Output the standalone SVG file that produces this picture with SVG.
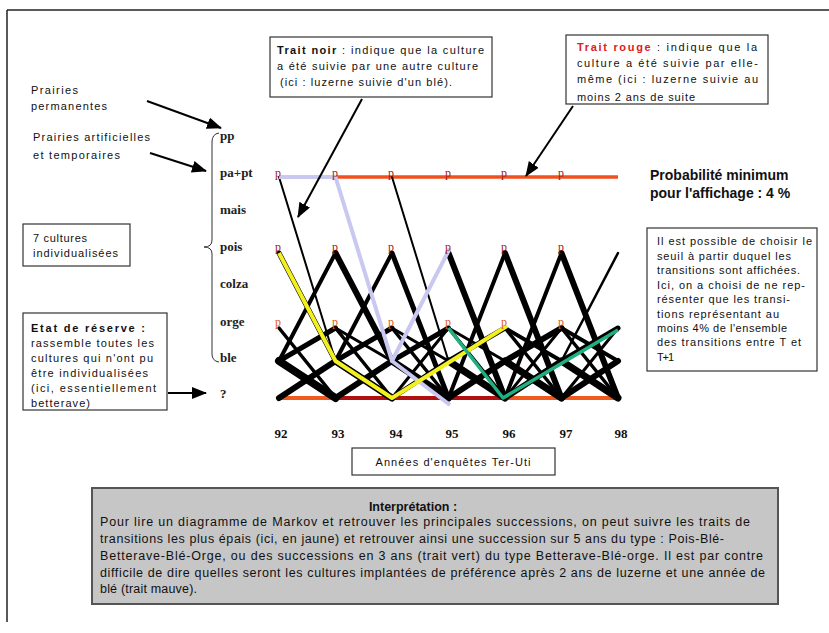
<svg xmlns="http://www.w3.org/2000/svg" width="829" height="633" viewBox="0 0 829 633">
<defs>
<marker id="ah" markerUnits="userSpaceOnUse" markerWidth="16" markerHeight="12" refX="14" refY="6" orient="auto">
<path d="M0,0 L15,6 L0,12 Z" fill="#000"/>
</marker>
<style>
.c{font-family:"Liberation Sans",Arial,sans-serif;font-size:11px;fill:#111}
.cb{font-family:"Liberation Sans",Arial,sans-serif;font-size:11px;font-weight:bold;fill:#111}
.row{font-family:"Liberation Serif","Times New Roman",serif;font-size:13px;font-weight:bold;fill:#222}
.yr{font-family:"Liberation Serif","Times New Roman",serif;font-size:13px;font-weight:bold;fill:#111;text-anchor:middle}
.box{fill:#fff;stroke:#333;stroke-width:1.2}
.arr{stroke:#000;stroke-width:2;fill:none;marker-end:url(#ah)}
.bk{stroke:#000;stroke-linecap:round;fill:none}
.pm{font-family:"Liberation Serif",serif;font-size:12px;fill:#a01818}
.po{font-family:"Liberation Serif",serif;font-size:12px;fill:#e05a20}
.it{font-family:"Liberation Sans",Arial,sans-serif;font-size:12.5px;fill:#111}
</style>
</defs>
<rect width="829" height="633" fill="#fff"/>
<g id="frame" stroke="#222" stroke-width="1.5">
<line x1="7" y1="10" x2="829" y2="10"/>
<line x1="7" y1="10" x2="7" y2="622"/>
</g>

<g id="note-trait-noir">
<rect class="box" x="270" y="37" width="222" height="60"/>
<text class="c" x="277" y="54" textLength="207" lengthAdjust="spacing"><tspan font-weight="bold">Trait noir</tspan> : indique que la culture</text>
<text class="c" x="277" y="70" textLength="201" lengthAdjust="spacing">a été suivie par une autre culture</text>
<text class="c" x="280" y="86" textLength="172" lengthAdjust="spacing">(ici : luzerne suivie d'un blé).</text>
</g>

<g id="note-trait-rouge">
<rect class="box" x="566" y="35" width="202" height="69"/>
<text class="c" x="577" y="51" textLength="180" lengthAdjust="spacing"><tspan font-weight="bold" fill="#e02020">Trait rouge</tspan> : indique que la</text>
<text class="c" x="577" y="67" textLength="181" lengthAdjust="spacing">culture a été suivie par elle-</text>
<text class="c" x="577" y="83" textLength="181" lengthAdjust="spacing">même (ici : luzerne suivie au</text>
<text class="c" x="577" y="101" textLength="118" lengthAdjust="spacing">moins 2 ans de suite</text>
</g>

<g id="label-prairies-permanentes">
<text class="c" x="31" y="94" textLength="47" lengthAdjust="spacing">Prairies</text>
<text class="c" x="31" y="110" textLength="76" lengthAdjust="spacing">permanentes</text>
</g>
<g id="label-prairies-artificielles">
<text class="c" x="33" y="141" textLength="117" lengthAdjust="spacing">Prairies artificielles</text>
<text class="c" x="33" y="159" textLength="87" lengthAdjust="spacing">et temporaires</text>
</g>
<g id="note-7-cultures">
<rect class="box" x="23" y="224" width="107" height="42"/>
<text class="c" x="33" y="242" textLength="54" lengthAdjust="spacing">7 cultures</text>
<text class="c" x="33" y="257" textLength="85" lengthAdjust="spacing">individualisées</text>
</g>
<g id="note-etat-reserve">
<rect class="box" x="23" y="313" width="144" height="97"/>
<text class="cb" x="31" y="332" textLength="114" lengthAdjust="spacing">Etat de réserve :</text>
<text class="c" x="31" y="347" textLength="123" lengthAdjust="spacing">rassemble toutes les</text>
<text class="c" x="31" y="362" textLength="122" lengthAdjust="spacing">cultures qui n'ont pu</text>
<text class="c" x="31" y="377" textLength="117" lengthAdjust="spacing">être individualisées</text>
<text class="c" x="31" y="392" textLength="125" lengthAdjust="spacing">(ici, essentiellement</text>
<text class="c" x="31" y="407" textLength="59" lengthAdjust="spacing">betterave)</text>
</g>

<g id="brace">
<path d="M219,133 Q212,134 212,142 L212,240 Q212,247 204,247 Q212,247 212,254 L212,354 Q212,361 219,362" fill="none" stroke="#333" stroke-width="1"/>
</g>

<g id="row-labels">
<text class="row" x="220" y="140">pp</text>
<text class="row" x="220" y="177">pa+pt</text>
<text class="row" x="220" y="214">mais</text>
<text class="row" x="220" y="251">pois</text>
<text class="row" x="220" y="288">colza</text>
<text class="row" x="220" y="326">orge</text>
<text class="row" x="220" y="362">ble</text>
<text class="row" x="220" y="398">?</text>
</g>

<g id="years">
<text class="yr" x="281" y="438">92</text>
<text class="yr" x="338" y="438">93</text>
<text class="yr" x="396" y="438">94</text>
<text class="yr" x="452" y="438">95</text>
<text class="yr" x="509" y="438">96</text>
<text class="yr" x="566" y="438">97</text>
<text class="yr" x="621" y="438">98</text>
</g>

<g id="connectors">
<line x1="335.5" y1="177" x2="618" y2="177" stroke="#f0501e" stroke-width="3.5"/>
<line x1="279" y1="398" x2="336" y2="398" stroke="#f05a1e" stroke-width="4"/>
<line x1="336" y1="398" x2="505" y2="398" stroke="#b01010" stroke-width="4"/>
<line x1="505" y1="398" x2="618" y2="398" stroke="#f05a1e" stroke-width="4"/>
<line class="bk" x1="279" y1="177" x2="335.5" y2="361" stroke-width="2"/>
<line class="bk" x1="335.5" y1="177" x2="392" y2="361" stroke-width="2"/>
<line class="bk" x1="392" y1="177" x2="448.5" y2="361" stroke-width="2"/>
<line class="bk" x1="279" y1="253" x2="335.5" y2="361" stroke-width="5"/>
<line class="bk" x1="279" y1="361" x2="335.5" y2="253" stroke-width="4"/>
<line class="bk" x1="335.5" y1="253" x2="392" y2="361" stroke-width="6"/>
<line class="bk" x1="335.5" y1="361" x2="392" y2="253" stroke-width="4"/>
<line class="bk" x1="392" y1="253" x2="448.5" y2="398" stroke-width="5"/>
<line class="bk" x1="448.5" y1="253" x2="505" y2="398" stroke-width="6"/>
<line class="bk" x1="448.5" y1="398" x2="505" y2="253" stroke-width="4"/>
<line class="bk" x1="505" y1="253" x2="561.5" y2="398" stroke-width="6"/>
<line class="bk" x1="505" y1="398" x2="561.5" y2="253" stroke-width="4"/>
<line class="bk" x1="561.5" y1="253" x2="618" y2="398" stroke-width="6"/>
<line class="bk" x1="561.5" y1="361" x2="618" y2="253" stroke-width="2.5"/>
<g class="bk">
<line x1="279" y1="361" x2="335.5" y2="398" stroke-width="8"/>
<line x1="335.5" y1="361" x2="392" y2="398" stroke-width="7"/>
<line x1="392" y1="361" x2="448.5" y2="398" stroke-width="7"/>
<line x1="448.5" y1="361" x2="505" y2="398" stroke-width="7"/>
<line x1="505" y1="361" x2="561.5" y2="398" stroke-width="7"/>
<line x1="561.5" y1="361" x2="618" y2="398" stroke-width="7"/>
<line x1="279" y1="398" x2="335.5" y2="361" stroke-width="6"/>
<line x1="335.5" y1="398" x2="392" y2="361" stroke-width="6"/>
<line x1="392" y1="398" x2="448.5" y2="361" stroke-width="5"/>
<line x1="448.5" y1="398" x2="505" y2="361" stroke-width="6"/>
<line x1="505" y1="398" x2="561.5" y2="361" stroke-width="6"/>
<line x1="561.5" y1="398" x2="618" y2="361" stroke-width="6"/>
<line x1="279" y1="361" x2="335.5" y2="328" stroke-width="5"/>
<line x1="335.5" y1="361" x2="392" y2="328" stroke-width="5"/>
<line x1="392" y1="361" x2="448.5" y2="328" stroke-width="5"/>
<line x1="448.5" y1="361" x2="505" y2="328" stroke-width="5"/>
<line x1="505" y1="361" x2="561.5" y2="328" stroke-width="6"/>
<line x1="561.5" y1="361" x2="618" y2="328" stroke-width="5"/>
<line x1="279" y1="328" x2="335.5" y2="398" stroke-width="3.5"/>
<line x1="335.5" y1="328" x2="392" y2="398" stroke-width="3.5"/>
<line x1="392" y1="328" x2="448.5" y2="398" stroke-width="3.5"/>
<line x1="448.5" y1="328" x2="505" y2="398" stroke-width="3.5"/>
<line x1="505" y1="328" x2="561.5" y2="398" stroke-width="3.5"/>
<line x1="561.5" y1="328" x2="618" y2="398" stroke-width="3.5"/>
<line x1="335.5" y1="328" x2="392" y2="361" stroke-width="3"/>
<line x1="392" y1="328" x2="448.5" y2="361" stroke-width="3"/>
<line x1="448.5" y1="328" x2="505" y2="361" stroke-width="3"/>
<line x1="505" y1="328" x2="561.5" y2="361" stroke-width="4"/>
<line x1="561.5" y1="328" x2="618" y2="361" stroke-width="4"/>
<line x1="392" y1="398" x2="448.5" y2="328" stroke-width="3"/>
<line x1="505" y1="398" x2="561.5" y2="328" stroke-width="3"/>
<line x1="561.5" y1="398" x2="618" y2="328" stroke-width="3"/>
</g>
<polyline points="279,177 335.5,177 392,361 450,405" fill="none" stroke="#c8c8f0" stroke-width="4" stroke-linejoin="round"/>
<line x1="392" y1="361" x2="449" y2="250" stroke="#c8c8f0" stroke-width="4" stroke-linecap="round"/>
<polyline points="279,253 335.5,361 392,398 507,326" fill="none" stroke="#f2f01e" stroke-width="4" stroke-linejoin="round"/>
<polyline points="448.5,328 503,398 618,330" fill="none" stroke="#20b080" stroke-width="3.5" stroke-linejoin="round"/>
<line class="arr" x1="362" y1="99" x2="298" y2="217"/>
<line class="arr" x1="573" y1="106" x2="526" y2="176"/>
<line class="arr" x1="147" y1="101" x2="221" y2="128"/>
<line class="arr" x1="150" y1="153" x2="206" y2="171"/>
<line class="arr" x1="168" y1="393" x2="206" y2="393"/>
</g>

<g id="node-markers">
<text class="pm" x="275" y="177">p</text>
<text class="pm" x="332" y="177">p</text>
<text class="pm" x="388" y="177">p</text>
<text class="pm" x="445" y="177">p</text>
<text class="pm" x="501" y="177">p</text>
<text class="pm" x="558" y="177">p</text>
<text class="pm" x="275" y="251">p</text>
<text class="pm" x="332" y="251">p</text>
<text class="pm" x="388" y="251">p</text>
<text class="pm" x="445" y="251">p</text>
<text class="pm" x="501" y="251">p</text>
<text class="pm" x="558" y="251">p</text>
<text class="po" x="275" y="326">p</text>
<text class="po" x="332" y="326">p</text>
<text class="po" x="388" y="326">p</text>
<text class="po" x="445" y="326">p</text>
<text class="po" x="501" y="326">p</text>
<text class="po" x="558" y="326">p</text>
</g>

<g id="threshold">
<text x="650" y="180" font-family="Liberation Sans,Arial,sans-serif" font-size="14" font-weight="bold" fill="#111">Probabilité minimum</text>
<text x="650" y="198" font-family="Liberation Sans,Arial,sans-serif" font-size="14" font-weight="bold" fill="#111">pour l'affichage : 4 %</text>
</g>

<g id="note-seuil">
<rect class="box" x="647" y="228" width="170" height="143"/>
<text class="c" x="657" y="245" textLength="155" lengthAdjust="spacing">Il est possible de choisir le</text>
<text class="c" x="657" y="260" textLength="134" lengthAdjust="spacing">seuil à partir duquel les</text>
<text class="c" x="657" y="274" textLength="143" lengthAdjust="spacing">transitions sont affichées.</text>
<text class="c" x="657" y="289" textLength="148" lengthAdjust="spacing">Ici, on a choisi de ne rep-</text>
<text class="c" x="657" y="303" textLength="133" lengthAdjust="spacing">résenter que les transi-</text>
<text class="c" x="657" y="318" textLength="122" lengthAdjust="spacing">tions représentant au</text>
<text class="c" x="657" y="332" textLength="130" lengthAdjust="spacing">moins 4% de l'ensemble</text>
<text class="c" x="657" y="346" textLength="144" lengthAdjust="spacing">des transitions entre T et</text>
<text class="c" x="657" y="361" textLength="17" lengthAdjust="spacing">T+1</text>
</g>

<g id="axis-title">
<rect class="box" x="352" y="448" width="203" height="27"/>
<text class="c" x="453" y="466" text-anchor="middle" textLength="155" lengthAdjust="spacing">Années d'enquêtes Ter-Uti</text>
</g>

<g id="interpretation">
<rect x="92" y="488" width="686" height="116" fill="#c6c6c6" stroke="#555" stroke-width="2"/>
<text x="413" y="511" text-anchor="middle" font-family="Liberation Sans,Arial,sans-serif" font-size="12.5" font-weight="bold" fill="#111">Interprétation :</text>
<text class="it" x="100" y="526" textLength="650" lengthAdjust="spacing">Pour lire un diagramme de Markov et retrouver les principales successions, on peut suivre les traits de</text>
<text class="it" x="100" y="543" textLength="624" lengthAdjust="spacing">transitions les plus épais (ici, en jaune) et retrouver ainsi une succession sur 5 ans du type : Pois-Blé-</text>
<text class="it" x="100" y="560" textLength="663" lengthAdjust="spacing">Betterave-Blé-Orge, ou des successions en 3 ans (trait vert) du type Betterave-Blé-orge. Il est par contre</text>
<text class="it" x="100" y="577" textLength="665" lengthAdjust="spacing">difficile de dire quelles seront les cultures implantées de préférence après 2 ans de luzerne et une année de</text>
<text class="it" x="100" y="593" textLength="97" lengthAdjust="spacing">blé (trait mauve).</text>
</g>
</svg>
